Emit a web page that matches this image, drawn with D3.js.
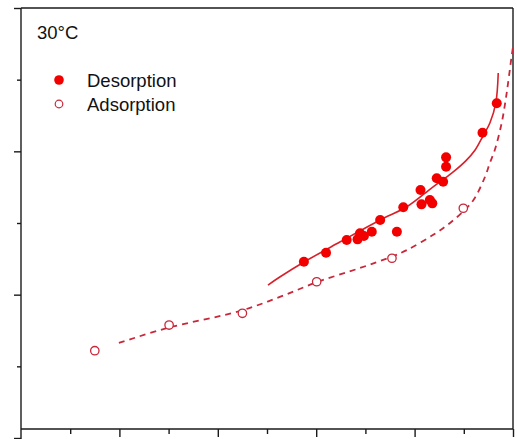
<!DOCTYPE html>
<html>
<head>
<meta charset="utf-8">
<script src="https://cdn.jsdelivr.net/npm/d3@7"></script>
<style>
  html, body { margin: 0; padding: 0; background: #fff; }
  svg { display: block; }
  text { font-family: "Liberation Sans", Arial, sans-serif; fill: #111; }
</style>
</head>
<body>
<svg id="chart" width="517" height="439"></svg>
<script>
// Water activity (x) and moisture content (y) at 30 °C
const desorptionX = [0.575, 0.620, 0.662, 0.684, 0.689, 0.697, 0.713, 0.730, 0.764, 0.777,
                     0.812, 0.814, 0.831, 0.836, 0.845, 0.858, 0.864, 0.864, 0.938, 0.967];
const desorptionY = [12.30, 12.93, 13.81, 13.86, 14.28, 14.09, 14.39, 15.21, 14.39, 16.10,
                     17.30, 16.30, 16.60, 16.37, 18.12, 17.88, 18.93, 19.58, 21.30, 23.35];

const adsorptionX = [0.150, 0.301, 0.450, 0.601, 0.754, 0.899];
const adsorptionY = [6.09, 7.88, 8.70, 10.90, 12.54, 16.03];

// Fitted isotherm curves
const desFitX = [0.502, 0.526, 0.577, 0.648, 0.730, 0.785, 0.837, 0.876, 0.904, 0.923, 0.939, 0.953, 0.965, 0.970];
const desFitY = [10.67, 11.23, 12.31, 13.67, 15.21, 16.15, 17.51, 18.49, 19.33, 20.09, 21.07, 21.98, 23.37, 25.47];

const adsFitX = [0.199, 0.297, 0.445, 0.526, 0.602, 0.689, 0.752, 0.785, 0.837, 0.872, 0.904, 0.921,
                 0.943, 0.953, 0.963, 0.977, 0.985, 0.990, 0.997, 1.000];
const adsFitY = [6.63, 7.67, 8.86, 9.84, 10.88, 11.86, 12.63, 13.12, 14.16, 15.00, 15.98, 16.67,
                 18.21, 19.19, 20.09, 21.98, 23.58, 24.77, 26.58, 27.28];

const xTicks = [0, 0.1, 0.2, 0.3, 0.4, 0.5, 0.6, 0.7, 0.8, 0.9, 1.0];
const yTicks = [0, 5, 10, 15, 20, 25, 30];

const legendLabels = ["Desorption", "Adsorption"];
const tempLabel = "30\u00B0C";

const svg = d3.select("#chart");
const x = d3.scaleLinear().domain([0, 1]).range([21, 513]);
const y = d3.scaleLinear().domain([0, 30]).range([438, 8]);
const xAxisY = 429;

const frame = svg.append("g").attr("stroke", "#1a1a1a").attr("stroke-width", 1.4).attr("fill", "none");
// left axis (runs slightly below the bottom axis), top, right and bottom lines
frame.append("line").attr("x1", x(0)).attr("x2", x(0)).attr("y1", y(30)).attr("y2", y(0) + 1);
frame.append("line").attr("x1", x(0)).attr("x2", x(1)).attr("y1", y(30)).attr("y2", y(30));
frame.append("line").attr("x1", x(1)).attr("x2", x(1)).attr("y1", y(30)).attr("y2", xAxisY);
frame.append("line").attr("x1", x(0)).attr("x2", x(1)).attr("y1", xAxisY).attr("y2", xAxisY);

// bottom ticks: major every 0.2, minor in between
const xAxis = d3.axisBottom(x).tickValues(xTicks.slice(1))
  .tickSize(0).tickFormat("");
const gx = svg.append("g").attr("transform", `translate(0,${xAxisY})`).call(xAxis);
gx.select(".domain").remove();
gx.selectAll(".tick").append("line")
  .attr("y2", (d, i) => (i % 2 === 1 ? 8 : 5))
  .attr("stroke", "#1a1a1a").attr("stroke-width", 1.4);

// left ticks: major every 10, minor every 5
const yAxis = d3.axisLeft(y).tickValues(yTicks).tickSize(0).tickFormat("");
const gy = svg.append("g").attr("transform", `translate(${x(0)},0)`).call(yAxis);
gy.select(".domain").remove();
gy.selectAll(".tick").append("line")
  .attr("x2", d => (d % 10 === 0 ? -7 : -4))
  .attr("stroke", "#1a1a1a").attr("stroke-width", 1.4);

const plot = svg.append("g");
plot.append("clipPath").attr("id", "clip").append("rect")
  .attr("x", x(0)).attr("y", y(30)).attr("width", x(1) - x(0)).attr("height", xAxisY - y(30));

const line = d3.line().x(d => x(d[0])).y(d => y(d[1])).curve(d3.curveCatmullRom.alpha(0.5));

plot.append("path")
  .datum(d3.zip(adsFitX, adsFitY))
  .attr("clip-path", "url(#clip)")
  .attr("d", line)
  .attr("fill", "none").attr("stroke", "#c8283a").attr("stroke-width", 1.8)
  .attr("stroke-dasharray", "6,5");

plot.append("path")
  .datum(d3.zip(desFitX, desFitY))
  .attr("d", line)
  .attr("fill", "none").attr("stroke", "#d8202a").attr("stroke-width", 1.6);

plot.selectAll("circle.ads")
  .data(d3.zip(adsorptionX, adsorptionY))
  .join("circle").attr("class", "ads")
  .attr("cx", d => x(d[0])).attr("cy", d => y(d[1])).attr("r", 4.2)
  .attr("fill", "#fff").attr("stroke", "#c8283a").attr("stroke-width", 1.3);

plot.selectAll("circle.des")
  .data(d3.zip(desorptionX, desorptionY))
  .join("circle").attr("class", "des")
  .attr("cx", d => x(d[0])).attr("cy", d => y(d[1])).attr("r", 5)
  .attr("fill", "#f20000");

// temperature label and legend
svg.append("text").attr("x", 37).attr("y", 39).attr("font-size", 18.5).text(tempLabel);

const legend = svg.append("g");
legend.append("circle").attr("cx", 59).attr("cy", 80).attr("r", 4.8).attr("fill", "#f20000");
legend.append("circle").attr("cx", 59).attr("cy", 104).attr("r", 3.8)
  .attr("fill", "#fff").attr("stroke", "#c8283a").attr("stroke-width", 1.2);
legend.selectAll("text").data(legendLabels).join("text")
  .attr("x", 87).attr("y", (d, i) => 87 + i * 24).attr("font-size", 18.5).text(d => d);
</script>
</body>
</html>
